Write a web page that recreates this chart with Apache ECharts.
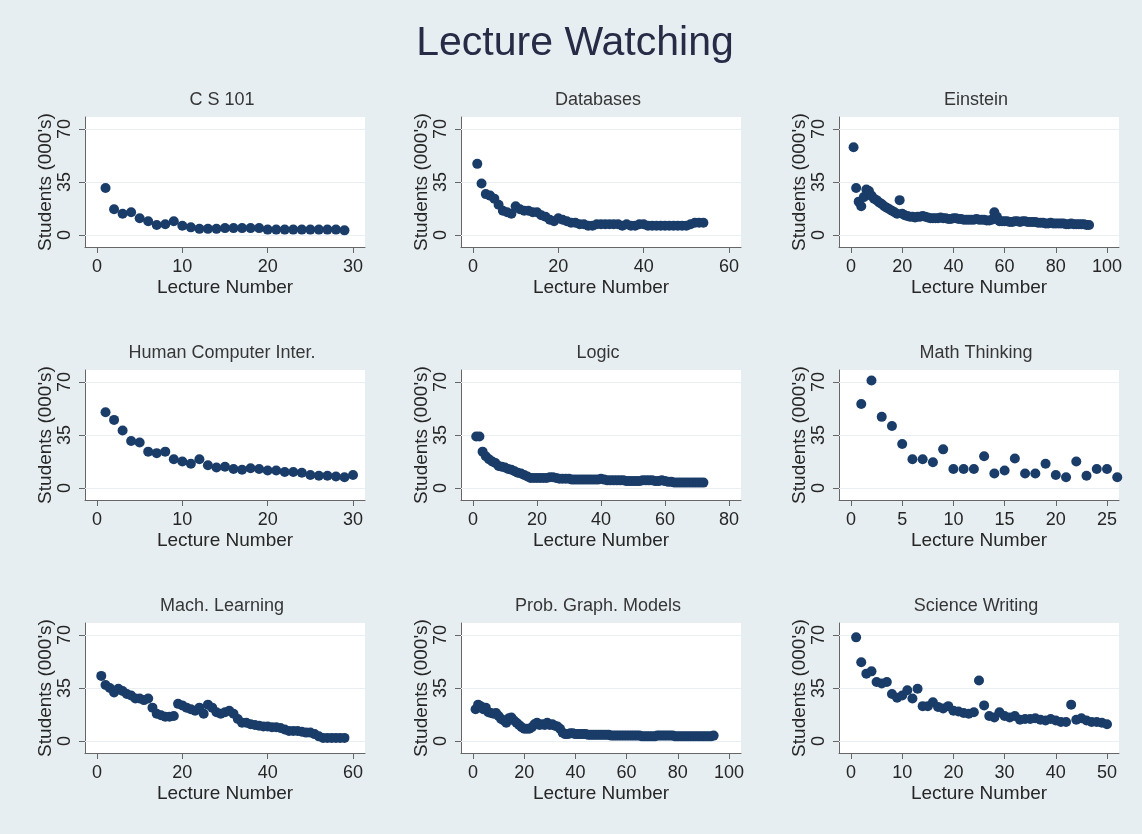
<!DOCTYPE html>
<html>
<head>
<meta charset="utf-8">
<script src="https://cdn.jsdelivr.net/npm/echarts@6/dist/echarts.min.js"></script>
<style>
html,body{margin:0;padding:0;background:#e7eef1;}
#chart{width:1142px;height:834px;}
</style>
</head>
<body>
<div id="chart"></div>
<script>
// ---- Data (students, thousands, per lecture number 1..n) ----
const mainTitle = "Lecture Watching";
const panelTitles = ["C S 101", "Databases", "Einstein", "Human Computer Inter.", "Logic", "Math Thinking", "Mach. Learning", "Prob. Graph. Models", "Science Writing"];
const xAxisTitle = "Lecture Number";
const yAxisTitle = "Students (000's)";
const yTicks = [0, 35, 70];

const cs101 = [31, 17, 14, 15, 11, 9, 6.5, 7, 9, 6, 5, 4, 4, 4, 4.5, 4.5, 4.5, 4.5, 4.5, 3.5, 3.5, 3.5, 3.5, 3.5, 3.5, 3.5, 3.5, 3.5, 3];
const databases = [47, 34, 27, 26, 24, 20, 16, 15, 14, 19,
  17, 16, 16, 15, 15, 13, 12, 10, 9, 11,
  10, 9, 8, 8, 7, 7, 6, 6, 7, 7,
  7, 7, 7, 7, 6, 7, 6, 6, 7, 7,
  6, 6, 6, 6, 6, 6, 6, 6, 6, 6,
  7, 8, 8, 8];
const einstein = [58, 31, 22, 19, 25, 30, 29, 26, 24, 23,
  21.5, 20.5, 19, 18, 17, 16, 15, 14, 23, 14,
  13, 12.5, 12, 12, 11.5, 12, 12, 12.5, 12, 11.5,
  11, 11, 11, 11, 11.5, 11, 11, 10.5, 10.5, 11,
  11, 10.5, 10.5, 10, 10, 10, 10, 10, 10.5, 10,
  10, 10, 9.5, 9.5, 10, 15, 12, 9, 9, 9,
  9, 8.5, 8.5, 9, 9, 8.5, 9, 9, 8.5, 8.5,
  8.5, 8.5, 8, 8, 8, 7.5, 7.5, 8, 7.5, 7.5,
  7.5, 7.5, 7.5, 7, 7, 7.5, 7, 7, 7, 7,
  7, 6.5, 6.5];
const hci = [50, 45, 38, 31, 30, 24, 23, 24, 19, 17.5,
  16, 19, 15, 13.5, 14, 12.5, 12, 13, 12.5, 11.5,
  11.5, 10.5, 10.5, 10, 8.5, 8, 8, 7.5, 7, 8.5];
const logic = [34, 34, 24, 21, 19, 17.5, 16.5, 14.5, 14, 13.5,
  12.5, 12, 11, 10, 9.5, 8.5, 7.5, 6.5, 6.5, 6.5,
  6.5, 6.5, 6.5, 7, 7, 6.5, 6, 6, 6, 6,
  5.5, 5.5, 5.5, 5.5, 5.5, 5.5, 5.5, 5.5, 5.5, 6,
  5.5, 5, 5, 5, 5, 5, 5, 4.5, 4.5, 4.5,
  4.5, 4.5, 5, 5, 5, 5, 4.5, 4.5, 5, 4.5,
  4, 4, 3.5, 3.5, 3.5, 3.5, 3.5, 3.5, 3.5, 3.5,
  3.5, 3.5];
const mathThinking = [55.5, 71, 47, 41, 29, 19, 19, 17, 25.5, 12.5,
  12.5, 12.5, 21, 9.5, 11.5, 19.5, 9.5, 9.5, 16, 8.5,
  7, 17.5, 8, 12.5, 12.5, 7];
const machLearning = [43, 37, 35, 32, 34.5, 33, 31, 30, 28, 28,
  27, 28, 22, 18, 17, 16, 16, 16.5, 24.5, 23.5,
  22, 21, 20, 22, 18, 24, 22, 19, 18, 19,
  20, 18, 14.5, 12, 12, 11, 10.5, 10, 9.5, 9.5,
  9, 9, 8.5, 7.5, 6.5, 6.5, 6.5, 6, 5.5, 5.5,
  4.5, 3, 2, 2, 2, 2, 2, 2];
const probGraphModels = [21, 24, 23, 21, 22, 19, 18.5, 18, 18.5, 16.5,
  14.5, 13.5, 12, 15, 15.5, 13.5, 12, 10.5, 9, 8,
  8, 8, 9, 11, 12, 10.5, 11, 10.5, 12, 10.5,
  11, 10, 9.5, 8, 5.5, 4.5, 4.5, 5, 5, 4.5,
  4.5, 4.5, 4.5, 4.5, 4, 4, 4, 4, 4, 4,
  4, 4, 4, 3.5, 3.5, 3.5, 3.5, 3.5, 3.5, 3.5,
  3.5, 3.5, 3.5, 3.5, 3.5, 3, 3, 3, 3, 3,
  3, 3.5, 3.5, 3.5, 3.5, 3.5, 3.5, 3.5, 3, 3,
  3, 3, 3, 3, 3, 3, 3, 3, 3, 3,
  3, 3, 3, 3.5];
const scienceWriting = [68.5, 52, 44.5, 46, 39, 38, 39, 31, 28.5, 30,
  33.5, 28, 34.5, 23, 23, 25.5, 22.5, 21.5, 23, 20,
  19.5, 18.5, 18, 19, 40, 23.5, 16.5, 15.5, 19, 16.5,
  15.5, 16.5, 14, 14.5, 14.5, 15, 14, 13.5, 14.5, 13.5,
  12.5, 12.5, 24, 14, 15, 13.5, 12.5, 12.5, 12, 11];

const panelSeries = [cs101, databases, einstein, hci, logic, mathThinking, machLearning, probGraphModels, scienceWriting];
const xTicks = [[0, 10, 20, 30], [0, 20, 40, 60], [0, 20, 40, 60, 80, 100],
  [0, 10, 20, 30], [0, 20, 40, 60, 80], [0, 5, 10, 15, 20, 25],
  [0, 20, 40, 60], [0, 20, 40, 60, 80, 100], [0, 10, 20, 30, 40, 50]];

// ---- Layout ----
const colLeft = [85, 461, 839];
const rowTop = [117, 370, 623];
const plotW = 280, plotH = 130;
const padPx = 12;            // inner plot margin (px) on each side of tick span
const yMin = -8, yMax = 78;
const font = "'Liberation Sans', Arial, sans-serif";
const textColor = '#262626';
const axisColor = '#666666';
const markerColor = '#1a3c68';

const grids = [], xAxes = [], yAxes = [], series = [], titles = [];
titles.push({
  text: mainTitle, left: 575, top: 23, textAlign: 'center', padding: 0,
  textStyle: {fontFamily: font, fontSize: 41, fontWeight: 'normal', color: '#272b45'}
});
panelSeries.forEach((vals, i) => {
  const r = Math.floor(i / 3), c = i % 3;
  const ticks = xTicks[i];
  const tmax = ticks[ticks.length - 1];
  const span = plotW - 2 * padPx;
  grids.push({
    left: colLeft[c], top: rowTop[r], width: plotW, height: plotH,
    show: true, backgroundColor: '#ffffff', borderWidth: 0, outerBoundsMode: 'none'
  });
  xAxes.push({
    type: 'value', gridIndex: i,
    min: -tmax * padPx / span, max: tmax * (1 + padPx / span),
    name: xAxisTitle, nameLocation: 'middle', nameGap: 31,
    nameTextStyle: {fontFamily: font, fontSize: 19, color: textColor},
    axisLine: {show: true, onZero: false, lineStyle: {color: axisColor, width: 1}},
    axisTick: {show: true, length: 6, customValues: ticks, lineStyle: {color: axisColor}},
    axisLabel: {customValues: ticks, margin: 11, fontFamily: font, fontSize: 18, color: textColor},
    splitLine: {show: false}
  });
  yAxes.push({
    type: 'value', gridIndex: i, min: yMin, max: yMax,
    name: yAxisTitle, nameLocation: 'middle', nameGap: 30, nameRotate: 90,
    nameTextStyle: {fontFamily: font, fontSize: 19, color: textColor},
    axisLine: {show: true, onZero: false, lineStyle: {color: axisColor, width: 1}},
    axisTick: {show: true, length: 6, customValues: yTicks, lineStyle: {color: axisColor}},
    axisLabel: {customValues: yTicks, rotate: 90, margin: 11, fontFamily: font, fontSize: 18, color: textColor},
    splitLine: {show: false}
  });
  // faint horizontal grid lines, drawn beneath the markers
  series.push({
    type: 'scatter', xAxisIndex: i, yAxisIndex: i, data: [],
    silent: true, animation: false, z: 1,
    markLine: {
      silent: true, symbol: 'none', animation: false,
      label: {show: false},
      lineStyle: {color: '#e9eff2', width: 1, type: 'solid'},
      data: yTicks.map(t => ({yAxis: t}))
    }
  });
  series.push({
    type: 'scatter', xAxisIndex: i, yAxisIndex: i,
    data: vals.map((v, k) => [k + 1, v]),
    symbol: 'circle', symbolSize: 10,
    itemStyle: {color: markerColor, opacity: 1},
    silent: true, animation: false, z: 5
  });
  titles.push({
    text: panelTitles[i], left: colLeft[c] + plotW / 2 - 3, top: rowTop[r] - 26,
    textAlign: 'center', padding: 0,
    textStyle: {fontFamily: font, fontSize: 18, fontWeight: 'normal', color: '#363636'}
  });
});

const chart = echarts.init(document.getElementById('chart'), null, {renderer: 'canvas'});
chart.setOption({
  backgroundColor: '#e7eef1',
  animation: false,
  title: titles,
  grid: grids, xAxis: xAxes, yAxis: yAxes, series: series
});
</script>
</body>
</html>
